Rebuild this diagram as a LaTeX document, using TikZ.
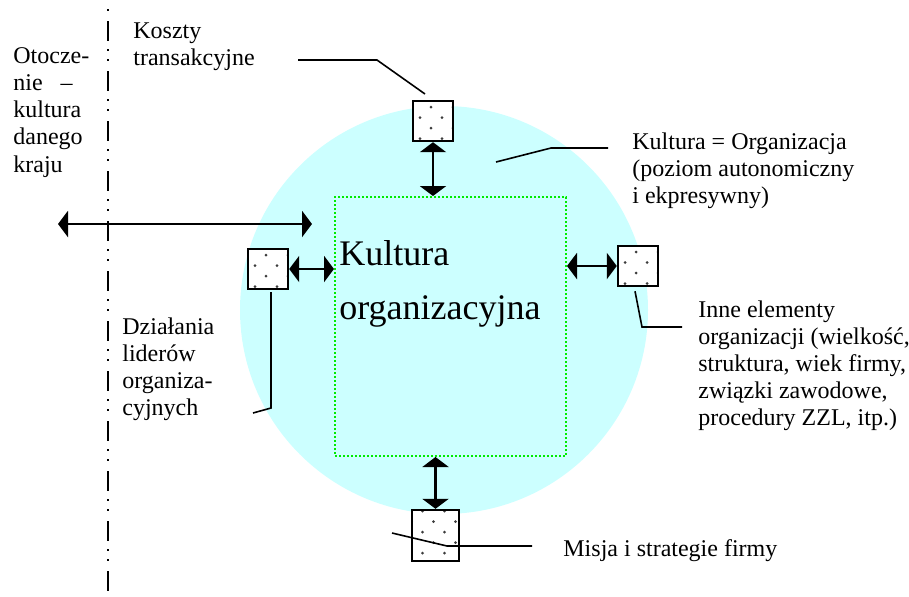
\documentclass[tikz,border=0pt]{standalone}
\usepackage{fontspec}
\setmainfont{Liberation Serif}
\usetikzlibrary{arrows.meta, calc}
\definecolor{orgcyan}{RGB}{204,255,255}
\definecolor{coregreen}{RGB}{0,235,0}
\definecolor{dotgray}{RGB}{60,60,60}

\begin{document}
\begin{tikzpicture}[x=0.5pt,y=-0.5pt]
    \tikzset{BoxStyle/.style = {shape = rectangle, draw, line width=1.2pt, fill=white, minimum size=20pt, inner sep=0,
        path picture={\foreach \dy/\dx in {12.25/-6.5, 7/-1, 1.75/-6.5, -3.5/-1, -8.75/-6.5, -14/-1}
            \foreach \k in {-1,0,1}
            \fill[dotgray] (path picture bounding box.center) ++({(\dx+11*\k)*1pt},{\dy*1pt}) circle (0.75pt);}},
        LabelStyle/.style = {anchor=north west, inner sep=0, align=left, font=\fontsize{12}{13.6}\selectfont},
        ArrowStyle/.style = {line width=1.4pt, {Triangle[length=5pt,width=13pt]}-{Triangle[length=5pt,width=13pt]}},
        LeaderStyle/.style = {line width=0.8pt}}
    \useasboundingbox (0,0) rectangle (909,596);

    \node[circle, fill=orgcyan, minimum size=204pt, inner sep=0] at (444,310) (org) {};
    \node[draw=coregreen, line width=1pt, dash pattern=on 1pt off 1pt, minimum width=115.5pt, minimum height=129.5pt, inner sep=0] at (450.5,326.5) (core) {};
    \node[anchor=north west, inner sep=0, align=left, font=\fontsize{18}{27}\selectfont] at (339,240) (coretext) {Kultura\\organizacyjna};

    \coordinate (bordertop) at (108,9);
    \coordinate (borderbottom) at (108,596);
    \draw[line width=1.1pt, dash pattern=on 1pt off 5pt on 10pt off 4pt on 1pt off 4pt] (bordertop) -- (borderbottom);

    \node[BoxStyle] at (433,121) (sqtop) {};
    \node[BoxStyle] at (268,269) (sqleft) {};
    \node[BoxStyle] at (638,266) (sqright) {};
    \node[BoxStyle, minimum width=23.5pt, minimum height=25.5pt] at (435.5,535.5) (sqbottom) {};

    \draw[ArrowStyle] (sqtop.south) -- (sqtop.south |- core.north);
    \draw[ArrowStyle] (sqleft.east) -- (sqleft.east -| core.west);
    \draw[ArrowStyle] (sqright.west) -- (sqright.west -| core.east);
    \draw[ArrowStyle] (sqbottom.north) -- (sqbottom.north |- core.south);
    \coordinate (envleft) at (58,224);
    \coordinate (envright) at (312,224);
    \draw[ArrowStyle] (envleft) -- (envright);

    \node[LabelStyle] at (13,47) (envtext) {Otocze-\\nie\hspace{9pt}–\\kultura\\danego\\kraju};
    \node[LabelStyle] at (133,22) (costtext) {Koszty\\transakcyjne};
    \node[LabelStyle] at (632,132) (orgtext) {Kultura = Organizacja\\(poziom autonomiczny\\i ekpresywny)};
    \node[LabelStyle] at (698,300) (othertext) {Inne elementy\\organizacji (wielkość,\\struktura, wiek firmy,\\związki zawodowe,\\procedury ZZL, itp.)};
    \node[LabelStyle] at (122,317) (leadtext) {Działania\\liderów\\organiza-\\cyjnych};
    \node[LabelStyle] at (563,539) (missiontext) {Misja i strategie firmy};

    \coordinate (costa) at (298,60);
    \coordinate (costb) at (377,60);
    \coordinate (costc) at (425,94);
    \draw[LeaderStyle] (costa) -- (costb) -- (costc);
    \coordinate (orga) at (496,162);
    \coordinate (orgb) at (551,148);
    \coordinate (orgc) at (608,148);
    \draw[LeaderStyle] (orga) -- (orgb) -- (orgc);
    \coordinate (otherb) at (642,327);
    \coordinate (otherc) at (682,327);
    \draw[LeaderStyle] ([shift={(-3,4)}]sqright.south) -- (otherb) -- (otherc);
    \coordinate (leadb) at (271,408);
    \coordinate (leadc) at (253,413);
    \draw[LeaderStyle] ([shift={(3,2)}]sqleft.south) -- (leadb) -- (leadc);
    \coordinate (missiona) at (392,533);
    \coordinate (missionb) at (447,546);
    \coordinate (missionc) at (532,546);
    \draw[LeaderStyle] (missiona) -- (missionb) -- (missionc);
\end{tikzpicture}
\end{document}
